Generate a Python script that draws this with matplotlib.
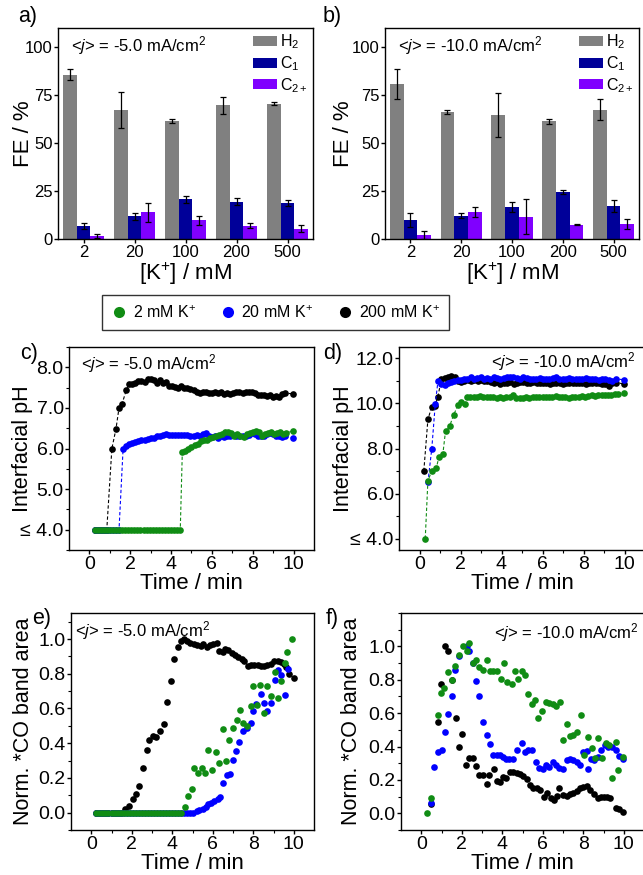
import matplotlib
matplotlib.use("Agg")
import matplotlib.pyplot as plt
from matplotlib.lines import Line2D
from matplotlib.ticker import MultipleLocator, FixedLocator, FixedFormatter
import numpy as np

plt.rcParams['font.family'] = 'Liberation Sans'
plt.rcParams['mathtext.fontset'] = 'custom'
plt.rcParams['mathtext.rm'] = 'Liberation Sans'
plt.rcParams['mathtext.it'] = 'Liberation Sans:italic'
plt.rcParams['axes.linewidth'] = 1.0

#
# Faradaic efficiencies
#
k_labels = ['2', '20', '100', '200', '500']

fe5_h2 = [85.7, 67.4, 61.7, 69.7, 70.6]
fe5_h2_err = [3.0, 9.4, 1.0, 4.3, 1.0]
fe5_c1 = [6.6, 11.8, 20.6, 19.5, 18.6]
fe5_c1_err = [1.5, 2.0, 1.7, 2.0, 1.5]
fe5_c2 = [1.6, 13.9, 9.8, 7.0, 5.4]
fe5_c2_err = [1.0, 4.8, 2.3, 1.5, 1.7]

fe10_h2 = [80.8, 66.2, 64.5, 61.3, 67.4]
fe10_h2_err = [8.0, 1.0, 11.5, 1.2, 5.5]
fe10_c1 = [9.9, 12.2, 16.6, 24.4, 17.1]
fe10_c1_err = [3.5, 1.2, 2.5, 1.0, 3.0]
fe10_c2 = [2.1, 14.1, 11.7, 7.4, 7.8]
fe10_c2_err = [2.0, 2.5, 9.1, 0.3, 2.5]

#
# Interfacial pH, -5 mA/cm2
#
c_t_2 = [0.25, 0.40, 0.55, 0.70, 0.85, 1.00, 1.15, 1.30, 1.45, 1.60, 1.75, 1.90, 2.05, 2.20,
         2.35, 2.50, 2.65, 2.80, 2.95, 3.10, 3.25, 3.40, 3.55, 3.70, 3.85, 4.00, 4.15, 4.30,
         4.45, 4.55, 4.70, 4.85, 5.00, 5.15, 5.30, 5.45, 5.60, 5.75, 5.90, 6.05, 6.20, 6.35,
         6.50, 6.65, 6.80, 6.95, 7.10, 7.25, 7.40, 7.55, 7.70, 7.85, 8.00, 8.15, 8.30, 8.45,
         8.60, 8.75, 8.90, 9.05, 9.20, 9.35, 9.50, 9.65, 9.95]
c_ph_2 = [4.0, 4.0, 4.0, 4.0, 4.0, 4.0, 4.0, 4.0, 4.0, 4.0, 4.0, 4.0, 4.0, 4.0,
          4.0, 4.0, 4.0, 4.0, 4.0, 4.0, 4.0, 4.0, 4.0, 4.0, 4.0, 4.0, 4.0, 4.0,
          4.0, 5.91, 5.95, 6.0, 6.03, 6.08, 6.12, 6.18, 6.2, 6.22, 6.25, 6.28, 6.3, 6.33,
          6.35, 6.4, 6.4, 6.38, 6.3, 6.35, 6.32, 6.28, 6.35, 6.38, 6.4, 6.42, 6.4, 6.32,
          6.35, 6.38, 6.4, 6.35, 6.38, 6.4, 6.35, 6.38, 6.43]

c_t_20 = [0.25, 0.40, 0.55, 0.70, 0.85, 1.00, 1.15, 1.30, 1.45, 1.65, 1.80, 1.95, 2.10, 2.25,
          2.40, 2.55, 2.70, 2.85, 3.00, 3.15, 3.30, 3.45, 3.60, 3.75, 3.90, 4.05, 4.20, 4.35,
          4.50, 4.65, 4.80, 4.95, 5.10, 5.25, 5.40, 5.55, 5.70, 5.85, 6.00, 6.15, 6.30, 6.45,
          6.60, 6.75, 6.90, 7.05, 7.20, 7.35, 7.50, 7.65, 7.80, 7.95, 8.10, 8.25, 8.40, 8.55,
          8.70, 8.85, 9.00, 9.15, 9.30, 9.45, 9.60, 9.95]
c_ph_20 = [4.0, 4.0, 4.0, 4.0, 4.0, 4.0, 4.0, 4.0, 4.0, 6.0, 6.05, 6.1, 6.13, 6.15,
           6.18, 6.2, 6.22, 6.24, 6.27, 6.27, 6.3, 6.3, 6.33, 6.35, 6.34, 6.33, 6.34, 6.34,
           6.34, 6.33, 6.33, 6.32, 6.3, 6.33, 6.32, 6.36, 6.37, 6.3, 6.28, 6.3, 6.27, 6.3,
           6.28, 6.32, 6.3, 6.33, 6.3, 6.3, 6.32, 6.3, 6.33, 6.38, 6.35, 6.32, 6.3, 6.3,
           6.35, 6.37, 6.35, 6.32, 6.3, 6.28, 6.3, 6.26]

c_t_200 = [0.25, 0.40, 0.55, 0.70, 0.85, 1.10, 1.30, 1.45, 1.60, 1.80, 1.95, 2.10, 2.25, 2.40,
           2.55, 2.70, 2.85, 3.00, 3.15, 3.30, 3.45, 3.60, 3.75, 3.90, 4.05, 4.20, 4.35, 4.50,
           4.65, 4.80, 4.95, 5.10, 5.25, 5.40, 5.55, 5.70, 5.85, 6.00, 6.15, 6.30, 6.45, 6.60,
           6.75, 6.90, 7.05, 7.20, 7.35, 7.50, 7.65, 7.80, 7.95, 8.10, 8.25, 8.40, 8.55, 8.70,
           8.85, 9.00, 9.15, 9.30, 9.45, 9.60, 9.95]
c_ph_200 = [4.0, 4.0, 4.0, 4.0, 4.0, 6.0, 6.48, 7.0, 7.1, 7.43, 7.58, 7.6, 7.62, 7.66,
            7.66, 7.63, 7.7, 7.72, 7.68, 7.62, 7.68, 7.62, 7.64, 7.55, 7.53, 7.52, 7.5, 7.53,
            7.5, 7.48, 7.47, 7.43, 7.4, 7.37, 7.38, 7.38, 7.36, 7.37, 7.38, 7.36, 7.38, 7.35,
            7.37, 7.34, 7.37, 7.4, 7.38, 7.36, 7.4, 7.38, 7.39, 7.36, 7.33, 7.32, 7.33, 7.3,
            7.31, 7.27, 7.3, 7.28, 7.34, 7.36, 7.35]

#
# Interfacial pH, -10 mA/cm2
#
d_t_2 = [0.28, 0.41, 0.60, 0.82, 0.95, 1.14, 1.27, 1.47, 1.66, 1.88, 2.04, 2.20, 2.32, 2.48,
         2.64, 2.80, 2.96, 3.12, 3.28, 3.44, 3.60, 3.76, 3.92, 4.08, 4.24, 4.40, 4.56, 4.72,
         4.88, 5.04, 5.20, 5.36, 5.52, 5.68, 5.84, 6.00, 6.16, 6.32, 6.48, 6.64, 6.80, 6.96,
         7.12, 7.28, 7.44, 7.60, 7.76, 7.92, 8.08, 8.24, 8.40, 8.56, 8.72, 8.88, 9.04, 9.20,
         9.36, 9.52, 9.68, 9.99]
d_ph_2 = [4.0, 6.57, 7.01, 7.13, 7.64, 7.76, 8.78, 8.99, 9.48, 9.93, 10.08, 9.98, 10.28, 10.3,
          10.28, 10.3, 10.32, 10.28, 10.3, 10.27, 10.28, 10.26, 10.3, 10.25, 10.28, 10.3, 10.35, 10.25,
          10.22, 10.26, 10.28, 10.25, 10.27, 10.28, 10.3, 10.28, 10.3, 10.28, 10.3, 10.32, 10.28, 10.3,
          10.28, 10.26, 10.3, 10.28, 10.3, 10.32, 10.3, 10.32, 10.35, 10.32, 10.35, 10.36, 10.38, 10.36,
          10.38, 10.4, 10.4, 10.44]

d_t_20 = [0.41, 0.60, 0.77, 0.90, 1.06, 1.22, 1.38, 1.54, 1.70, 1.86, 2.02, 2.18, 2.34, 2.50,
          2.66, 2.82, 2.98, 3.14, 3.30, 3.46, 3.62, 3.78, 3.94, 4.10, 4.26, 4.42, 4.58, 4.74,
          4.90, 5.06, 5.22, 5.38, 5.54, 5.70, 5.86, 6.02, 6.18, 6.34, 6.50, 6.66, 6.82, 6.98,
          7.14, 7.30, 7.46, 7.62, 7.78, 7.94, 8.10, 8.26, 8.42, 8.58, 8.74, 8.90, 9.06, 9.22,
          9.38, 9.60, 9.99]
d_ph_20 = [6.5, 8.0, 9.98, 10.98, 10.85, 10.82, 10.9, 10.95, 11.0, 11.05, 11.05, 11.1, 11.1, 11.15,
           11.1, 11.12, 11.15, 11.1, 11.12, 11.1, 11.15, 11.12, 11.1, 11.12, 11.15, 11.18, 11.15, 11.12,
           11.1, 11.15, 11.12, 11.1, 11.08, 11.1, 11.12, 11.1, 11.08, 11.1, 11.12, 11.15, 11.1, 11.08,
           11.1, 11.12, 11.1, 11.1, 11.08, 11.1, 11.12, 11.1, 11.08, 11.1, 11.05, 11.08, 11.1, 11.05,
           11.0, 11.08, 11.05]

d_t_200 = [0.21, 0.41, 0.60, 0.75, 0.90, 1.06, 1.22, 1.39, 1.55, 1.71, 1.87, 2.03, 2.19, 2.35,
           2.51, 2.67, 2.83, 2.99, 3.15, 3.31, 3.47, 3.63, 3.79, 3.95, 4.11, 4.27, 4.43, 4.59,
           4.75, 4.91, 5.07, 5.23, 5.39, 5.55, 5.71, 5.87, 6.03, 6.19, 6.35, 6.51, 6.67, 6.83,
           6.99, 7.15, 7.31, 7.47, 7.63, 7.79, 7.95, 8.11, 8.27, 8.43, 8.59, 8.75, 8.91, 9.07,
           9.23, 9.39, 9.60, 9.99]
d_ph_200 = [7.0, 9.29, 9.86, 9.9, 10.3, 11.06, 11.13, 11.18, 11.22, 11.18, 11.0, 10.95, 11.0, 11.05,
            11.0, 11.02, 11.0, 11.05, 11.0, 10.98, 10.95, 10.9, 10.95, 10.88, 10.9, 10.92, 10.95, 10.85,
            10.9, 10.95, 10.95, 10.9, 10.92, 10.95, 10.9, 10.9, 10.92, 10.9, 10.88, 10.9, 10.92, 10.9,
            10.88, 10.9, 10.9, 10.92, 10.9, 10.92, 10.9, 10.88, 10.9, 10.92, 10.9, 10.9, 10.88, 10.85,
            10.75, 10.9, 10.92, 10.86]

#
# Normalised *CO band area, -5 mA/cm2
#
e_t_2 = [0.25, 0.40, 0.55, 0.70, 0.85, 1.00, 1.15, 1.30, 1.45, 1.60, 1.75, 1.90, 2.05, 2.20,
         2.35, 2.50, 2.65, 2.80, 2.95, 3.10, 3.25, 3.40, 3.55, 3.70, 3.85, 4.00, 4.15, 4.30,
         4.45, 4.63, 4.76, 4.96, 5.09, 5.29, 5.45, 5.62, 5.78, 5.94, 6.16, 6.32, 6.52, 6.65,
         6.81, 6.98, 7.18, 7.34, 7.50, 7.70, 7.87, 8.00, 8.20, 8.33, 8.52, 8.70, 8.87, 9.06,
         9.20, 9.36, 9.56, 9.69, 9.93]
e_co_2 = [0.0, 0.0, 0.0, 0.0, 0.0, 0.0, 0.0, 0.0, 0.0, 0.0, 0.0, 0.0, 0.0, 0.0,
          0.0, 0.0, 0.0, 0.0, 0.0, 0.0, 0.0, 0.0, 0.0, 0.0, 0.0, 0.0, 0.0, 0.0,
          0.0, 0.033, 0.096, 0.134, 0.26, 0.23, 0.26, 0.226, 0.358, 0.243, 0.349, 0.284, 0.479, 0.297,
          0.418, 0.485, 0.536, 0.594, 0.517, 0.498, 0.613, 0.732, 0.619, 0.734, 0.575, 0.732, 0.674, 0.808,
          0.661, 0.757, 0.862, 0.923, 1.0]

e_t_20 = [0.25, 0.40, 0.55, 0.70, 0.85, 1.00, 1.15, 1.30, 1.45, 1.60, 1.75, 1.90, 2.05, 2.20,
          2.35, 2.50, 2.65, 2.80, 2.95, 3.10, 3.25, 3.40, 3.55, 3.70, 3.85, 4.00, 4.15, 4.30,
          4.45, 4.60, 4.71, 4.88, 5.04, 5.20, 5.34, 5.50, 5.67, 5.78, 5.91, 6.08, 6.24, 6.35,
          6.49, 6.68, 6.85, 6.98, 7.14, 7.31, 7.50, 7.67, 7.88, 8.00, 8.16, 8.36, 8.54, 8.70,
          8.87, 9.06, 9.20, 9.36, 9.59, 9.72]
e_co_20 = [0.0, 0.0, 0.0, 0.0, 0.0, 0.0, 0.0, 0.0, 0.0, 0.0, 0.0, 0.0, 0.0, 0.0,
           0.0, 0.0, 0.0, 0.0, 0.0, 0.0, 0.0, 0.0, 0.0, 0.0, 0.0, 0.0, 0.0, 0.0,
           0.0, 0.0, 0.0, 0.0, 0.0, 0.01, 0.013, 0.02, 0.03, 0.048, 0.054, 0.067, 0.079, 0.09,
           0.172, 0.216, 0.224, 0.303, 0.354, 0.408, 0.47, 0.49, 0.517, 0.588, 0.626, 0.684, 0.63, 0.588,
           0.632, 0.762, 0.824, 0.795, 0.676, 0.83]

e_t_200 = [0.25, 0.40, 0.55, 0.70, 0.85, 1.00, 1.15, 1.30, 1.45, 1.67, 1.87, 2.05, 2.22, 2.38,
           2.58, 2.74, 2.87, 3.04, 3.20, 3.40, 3.60, 3.76, 3.92, 4.10, 4.27, 4.42, 4.58, 4.75,
           4.90, 5.07, 5.24, 5.40, 5.53, 5.70, 5.86, 6.03, 6.19, 6.32, 6.49, 6.60, 6.77, 6.93,
           7.09, 7.26, 7.42, 7.55, 7.72, 7.88, 8.05, 8.21, 8.37, 8.54, 8.70, 8.87, 9.03, 9.20,
           9.36, 9.50, 9.64, 9.78, 10.0]
e_co_200 = [0.0, 0.0, 0.0, 0.0, 0.0, 0.0, 0.0, 0.0, 0.0, 0.023, 0.038, 0.08, 0.11, 0.153,
            0.26, 0.36, 0.42, 0.44, 0.435, 0.47, 0.51, 0.64, 0.76, 0.887, 0.952, 0.987, 1.0, 0.99,
            0.98, 0.97, 0.967, 0.958, 0.97, 0.956, 0.967, 0.973, 0.977, 0.93, 0.925, 0.944, 0.935, 0.92,
            0.91, 0.897, 0.887, 0.875, 0.843, 0.849, 0.853, 0.849, 0.847, 0.843, 0.853, 0.856, 0.872, 0.872,
            0.868, 0.855, 0.84, 0.80, 0.776]

#
# Normalised *CO band area, -10 mA/cm2
#
f_t_2 = [0.30, 0.46, 0.81, 0.97, 1.14, 1.33, 1.50, 1.66, 1.86, 2.04, 2.24, 2.37, 2.54, 2.70,
         2.87, 3.06, 3.23, 3.39, 3.56, 3.72, 3.92, 4.09, 4.25, 4.46, 4.63, 4.79, 4.96, 5.12,
         5.29, 5.45, 5.62, 5.78, 5.95, 6.16, 6.33, 6.49, 6.66, 6.85, 7.02, 7.18, 7.35, 7.51,
         7.68, 7.89, 8.04, 8.25, 8.42, 8.58, 8.75, 8.95, 9.11, 9.28, 9.41, 9.60, 9.70, 9.98]
f_co_2 = [0.0, 0.089, 0.588, 0.723, 0.749, 0.846, 0.796, 0.885, 0.95, 1.0, 0.97, 1.02, 0.9, 0.917,
          0.875, 0.861, 0.917, 0.855, 0.855, 0.851, 0.802, 0.9, 0.786, 0.772, 0.855, 0.802, 0.851, 0.828,
          0.713, 0.657, 0.679, 0.568, 0.614, 0.667, 0.659, 0.653, 0.644, 0.669, 0.44, 0.535, 0.461, 0.469,
          0.485, 0.588, 0.35, 0.455, 0.39, 0.331, 0.45, 0.331, 0.422, 0.41, 0.212, 0.426, 0.257, 0.337]

f_t_20 = [0.46, 0.64, 0.81, 1.00, 1.17, 1.33, 1.50, 1.66, 1.86, 2.24, 2.37, 2.54, 2.70, 2.87,
          3.06, 3.23, 3.39, 3.56, 3.72, 3.89, 4.05, 4.18, 4.35, 4.51, 4.74, 4.96, 5.12, 5.29,
          5.45, 5.65, 5.83, 6.00, 6.16, 6.33, 6.49, 6.66, 6.82, 7.02, 7.18, 7.35, 7.51, 7.68,
          7.84, 8.00, 8.17, 8.25, 8.39, 8.55, 8.71, 8.88, 9.08, 9.21, 9.41, 9.60, 9.77, 9.98]
f_co_20 = [0.06, 0.277, 0.37, 0.382, 0.49, 0.594, 0.703, 0.861, 0.94, 1.0, 0.974, 0.9, 0.792, 0.703,
           0.549, 0.469, 0.416, 0.347, 0.347, 0.347, 0.34, 0.327, 0.327, 0.327, 0.38, 0.422, 0.37, 0.38,
           0.382, 0.31, 0.273, 0.267, 0.29, 0.277, 0.307, 0.29, 0.273, 0.267, 0.32, 0.327, 0.32, 0.31,
           0.29, 0.366, 0.376, 0.267, 0.327, 0.317, 0.337, 0.38, 0.41, 0.396, 0.396, 0.382, 0.343, 0.327]

f_t_200 = [0.46, 0.81, 0.97, 1.17, 1.33, 1.50, 1.70, 1.86, 2.03, 2.20, 2.37, 2.54, 2.70, 2.87,
           3.03, 3.23, 3.36, 3.59, 3.72, 3.89, 4.02, 4.18, 4.38, 4.55, 4.71, 4.88, 5.04, 5.20,
           5.37, 5.54, 5.70, 5.86, 6.06, 6.23, 6.39, 6.56, 6.69, 6.82, 7.02, 7.18, 7.35, 7.51,
           7.68, 7.84, 8.00, 8.17, 8.34, 8.53, 8.71, 8.88, 9.04, 9.16, 9.32, 9.60, 9.77, 9.98]
f_co_200 = [0.053, 0.55, 0.776, 1.0, 0.974, 0.80, 0.568, 0.396, 0.475, 0.29, 0.33, 0.33, 0.283, 0.232,
            0.232, 0.178, 0.228, 0.267, 0.192, 0.188, 0.218, 0.212, 0.248, 0.248, 0.242, 0.238, 0.224, 0.208,
            0.172, 0.149, 0.149, 0.139, 0.099, 0.119, 0.093, 0.079, 0.105, 0.149, 0.109, 0.105, 0.113, 0.123,
            0.133, 0.149, 0.158, 0.162, 0.139, 0.113, 0.089, 0.099, 0.099, 0.099, 0.089, 0.034, 0.026, 0.01]

green = '#108c14'
blue = '#0000ff'
black = '#000000'
grey = '#808080'
navy = '#000099'
violet = '#8000ff'

W, H = 643, 875
fig = plt.figure(figsize=(W / 100, H / 100), dpi=100)


def ax_at(left, top, right, bottom):
    return fig.add_axes([left / W, 1 - bottom / H, (right - left) / W, (bottom - top) / H])


def style(ax, size):
    ax.tick_params(which='both', direction='out', top=False, right=False, labelsize=size)
    ax.tick_params(axis='y', which='major', length=3, width=1.0, pad=0.8)
    ax.tick_params(axis='x', which='major', length=3, width=1.0, pad=1.5)
    ax.tick_params(which='minor', length=2, width=0.8)


def fe_panel(ax, h2, h2e, c1, c1e, c2, c2e, label, ylab_x):
    x = np.arange(1, 6)
    w = 0.27
    ekw = dict(ecolor='black', elinewidth=0.9, capsize=2.3, capthick=0.9)
    ax.bar(x - w, h2, w, yerr=h2e, color=grey, label='H$_2$', error_kw=ekw)
    ax.bar(x, c1, w, yerr=c1e, color=navy, label='C$_1$', error_kw=ekw)
    ax.bar(x + w, c2, w, yerr=c2e, color=violet, label='C$_{2+}$', error_kw=ekw)
    ax.set_xlim(0.5, 5.5)
    ax.set_ylim(0, 110)
    ax.set_xticks(x, k_labels)
    ax.set_yticks([0, 25, 50, 75, 100])
    style(ax, 12)
    ax.set_xlabel('[K$^{+}$] / mM', fontsize=16, labelpad=0)
    ax.set_ylabel('FE / %', fontsize=16)
    ax.yaxis.set_label_coords(ylab_x, 0.5)
    ax.text(0.05, 0.915, label, transform=ax.transAxes, fontsize=12, va='center')
    ax.legend(loc='upper right', frameon=False, fontsize=11.5, handlelength=1.5,
              handleheight=0.6, labelspacing=0.18, handletextpad=0.2,
              borderpad=0.2, borderaxespad=0.1)


def time_axis(ax, ylab, ylab_x):
    ax.set_xlim(-1, 11)
    ax.xaxis.set_major_locator(FixedLocator([0, 2, 4, 6, 8, 10]))
    ax.xaxis.set_minor_locator(FixedLocator([1, 3, 5, 7, 9]))
    ax.set_xlabel('Time / min', fontsize=16, labelpad=0)
    ax.set_ylabel(ylab, fontsize=15.5)
    ax.yaxis.set_label_coords(ylab_x, 0.5)
    style(ax, 14)


def ph_series(ax, t, ph, col):
    ax.plot(t, ph, linestyle=(0, (3, 2)), linewidth=0.8, color=col, marker='o',
            markersize=4.8, markeredgewidth=0, markerfacecolor=col)


j5 = r'<$\mathit{j}$> = -5.0 mA/cm$^{2}$'
j10 = r'<$\mathit{j}$> = -10.0 mA/cm$^{2}$'

# a) and b): bar charts
ax_a = ax_at(58, 28, 313, 239)
fe_panel(ax_a, fe5_h2, fe5_h2_err, fe5_c1, fe5_c1_err, fe5_c2, fe5_c2_err, j5, -0.094)
ax_b = ax_at(385, 28, 639, 239)
fe_panel(ax_b, fe10_h2, fe10_h2_err, fe10_c1, fe10_c1_err, fe10_c2, fe10_c2_err, j10, -0.122)

# shared legend for the time series
handles = [Line2D([], [], linestyle='none', marker='o', markersize=8, markeredgewidth=0,
                  color=c) for c in (green, blue, black)]
fig.legend(handles, ['2 mM K$^{+}$', '20 mM K$^{+}$', '200 mM K$^{+}$'],
           loc='center', bbox_to_anchor=(275.5 / W, 1 - 312.5 / H), ncol=3,
           fontsize=11.5, frameon=True, fancybox=False, edgecolor='black',
           handletextpad=0.35, columnspacing=1.5, handlelength=1.0, borderpad=0.55)

# c) pH at -5 mA/cm2
ax_c = ax_at(69, 347, 314, 550)
for t, v, col in ((c_t_200, c_ph_200, black), (c_t_20, c_ph_20, blue), (c_t_2, c_ph_2, green)):
    ph_series(ax_c, t, v, col)
ax_c.set_ylim(3.5, 8.5)
ax_c.yaxis.set_major_locator(FixedLocator([4, 5, 6, 7, 8]))
ax_c.yaxis.set_major_formatter(FixedFormatter(['\u2264 4.0', '5.0', '6.0', '7.0', '8.0']))
ax_c.yaxis.set_minor_locator(MultipleLocator(0.5))
time_axis(ax_c, 'Interfacial pH', -0.147)
ax_c.text(0.05, 0.92, j5, transform=ax_c.transAxes, fontsize=12, va='center')

# d) pH at -10 mA/cm2
ax_d = ax_at(399, 347, 645, 550)
for t, v, col in ((d_t_200, d_ph_200, black), (d_t_20, d_ph_20, blue), (d_t_2, d_ph_2, green)):
    ph_series(ax_d, t, v, col)
ax_d.set_ylim(3.5, 12.5)
ax_d.yaxis.set_major_locator(FixedLocator([4, 6, 8, 10, 12]))
ax_d.yaxis.set_major_formatter(FixedFormatter(['\u2264 4.0', '6.0', '8.0', '10.0', '12.0']))
ax_d.yaxis.set_minor_locator(MultipleLocator(1))
time_axis(ax_d, 'Interfacial pH', -0.183)
ax_d.text(0.96, 0.926, j10, transform=ax_d.transAxes, fontsize=12, va='center', ha='right')

# e) and f) *CO band area
ax_e = ax_at(71, 613, 314, 830)
for t, v, col in ((e_t_200, e_co_200, black), (e_t_20, e_co_20, blue), (e_t_2, e_co_2, green)):
    ax_e.plot(t, v, 'o', color=col, markersize=4.8, markeredgewidth=0)
ax_e.set_ylim(-0.1, 1.15)
ax_f = ax_at(401, 613, 644, 830)
for t, v, col in ((f_t_200, f_co_200, black), (f_t_20, f_co_20, blue), (f_t_2, f_co_2, green)):
    ax_f.plot(t, v, 'o', color=col, markersize=4.8, markeredgewidth=0)
ax_f.set_ylim(-0.1, 1.2)
for ax, lx in ((ax_e, -0.152), (ax_f, -0.16)):
    ax.yaxis.set_major_locator(FixedLocator([0, 0.2, 0.4, 0.6, 0.8, 1.0]))
    ax.yaxis.set_major_formatter(FixedFormatter(['0.0', '0.2', '0.4', '0.6', '0.8', '1.0']))
    ax.yaxis.set_minor_locator(MultipleLocator(0.1))
    time_axis(ax, 'Norm. *CO band area', lx)
ax_e.text(0.016, 0.92, j5, transform=ax_e.transAxes, fontsize=12, va='center')
ax_f.text(0.975, 0.91, j10, transform=ax_f.transAxes, fontsize=12, va='center', ha='right')

# panel letters
for s, x, y in (('a)', 18, 6), ('b)', 323, 6), ('c)', 20, 343), ('d)', 323, 343),
                ('e)', 32, 608), ('f)', 326, 608)):
    fig.text(x / W, 1 - y / H, s, fontsize=15.5, va='top', ha='left')

fig.savefig('out.png', dpi=100)
